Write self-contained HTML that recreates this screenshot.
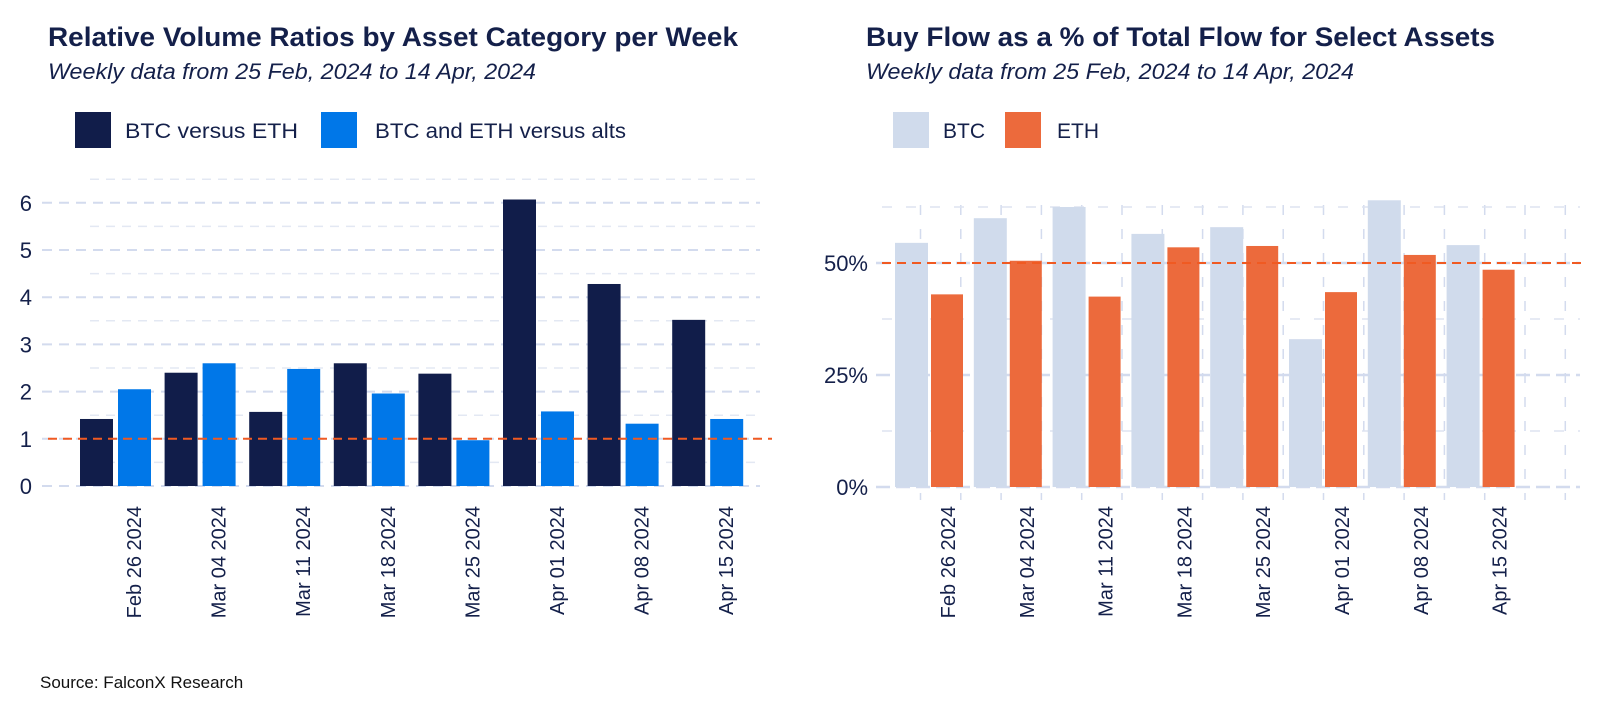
<!DOCTYPE html>
<html><head><meta charset="utf-8"><style>
html,body{margin:0;padding:0;background:#fff;}
svg{display:block;font-family:"Liberation Sans",Arial,sans-serif;}
</style></head><body>
<svg id="chart" width="1600" height="711" viewBox="0 0 1600 711" xmlns="http://www.w3.org/2000/svg">
<g>
<text x="48" y="46" font-size="27" font-weight="bold" fill="#14204a" textLength="690" lengthAdjust="spacingAndGlyphs">Relative Volume Ratios by Asset Category per Week</text>
<text x="48" y="79" font-size="22" font-style="italic" fill="#14204a" textLength="488" lengthAdjust="spacingAndGlyphs">Weekly data from 25 Feb, 2024 to 14 Apr, 2024</text>
<rect x="75" y="112" width="36" height="36" fill="#111d4a"/>
<text x="125" y="138" font-size="21" fill="#14204a" textLength="173" lengthAdjust="spacingAndGlyphs">BTC versus ETH</text>
<rect x="321" y="112" width="36" height="36" fill="#0077e8"/>
<text x="375" y="138" font-size="21" fill="#14204a" textLength="251" lengthAdjust="spacingAndGlyphs">BTC and ETH versus alts</text>
</g>
<g>
<text x="866" y="46" font-size="27" font-weight="bold" fill="#14204a" textLength="629" lengthAdjust="spacingAndGlyphs">Buy Flow as a % of Total Flow for Select Assets</text>
<text x="866" y="79" font-size="22" font-style="italic" fill="#14204a" textLength="488" lengthAdjust="spacingAndGlyphs">Weekly data from 25 Feb, 2024 to 14 Apr, 2024</text>
<rect x="893" y="112" width="36" height="36" fill="#d0dbec"/>
<text x="943" y="138" font-size="21" fill="#14204a">BTC</text>
<rect x="1005" y="112" width="36" height="36" fill="#ec6a3c"/>
<text x="1057" y="138" font-size="21" fill="#14204a">ETH</text>
</g>
<g id="left"></g>
<g id="right"></g>
<text x="40" y="688" font-size="17" fill="#111">Source: FalconX Research</text>
</svg>
<script>
const categories = ["Feb 26 2024","Mar 04 2024","Mar 11 2024","Mar 18 2024","Mar 25 2024","Apr 01 2024","Apr 08 2024","Apr 15 2024"];
const btcVsEth = [1.42,2.40,1.57,2.60,2.38,6.07,4.28,3.52];
const btcEthVsAlts = [2.05,2.60,2.48,1.96,0.97,1.58,1.32,1.42];
const leftTicks = [0,1,2,3,4,5,6];
const btcBuy = [54.5,60,62.5,56.5,58,33,64,54];
const ethBuy = [43,50.5,42.5,53.5,53.8,43.5,51.8,48.5];
const rightTicks = [0,25,50];
const rightTickLabels = ["0%","25%","50%"];

const NS="http://www.w3.org/2000/svg";
function mk(parent,tag,attrs){const e=document.createElementNS(NS,tag);for(const k in attrs)e.setAttribute(k,attrs[k]);parent.appendChild(e);return e;}

// left chart
const L=document.getElementById('left');
const ly=v=>486-v*47.2;
const lx=i=>80+i*84.6;
for(let v=0.5;v<6.6;v+=1){const g=mk(L,'line',{x1:90,x2:760,y1:ly(v),y2:ly(v),stroke:'#e3e8f3','stroke-width':1.5,'stroke-dasharray':'9 7'});

}
leftTicks.forEach(v=>{const g=mk(L,'line',{x1:42,x2:760,y1:ly(v),y2:ly(v),stroke:'#d3dbee','stroke-width':2,'stroke-dasharray':'10 7'});


const t=mk(L,'text',{x:32,y:ly(v)+8,'font-size':22,fill:'#14204a','text-anchor':'end'});t.textContent=v;

});
categories.forEach((c,i)=>{
const b1=mk(L,'rect',{x:lx(i),y:ly(btcVsEth[i]),width:33,height:ly(0)-ly(btcVsEth[i]),fill:'#111d4a'});


const b2=mk(L,'rect',{x:lx(i)+38,y:ly(btcEthVsAlts[i]),width:33,height:ly(0)-ly(btcEthVsAlts[i]),fill:'#0077e8'});


const t=mk(L,'text',{x:0,y:0,'font-size':20,fill:'#14204a','text-anchor':'end',transform:`translate(${lx(i)+61},506) rotate(-90)`});t.textContent=c;

});
const r1=mk(L,'line',{x1:48,x2:772,y1:ly(1),y2:ly(1),stroke:'#f05a22','stroke-width':2,'stroke-dasharray':'9 6'});



// right chart
const R=document.getElementById('right');
const ry=v=>487-v*4.48;
const rx=i=>895+i*78.8;
for(let k=0;k<17;k++){const x=920.5+k*40.3;const g=mk(R,'line',{x1:x,x2:x,y1:205,y2:500,stroke:'#d3dbee','stroke-width':1.5,'stroke-dasharray':'10 14'});

}
[12.5,37.5,62.5].forEach(v=>{const g=mk(R,'line',{x1:882,x2:1580,y1:ry(v),y2:ry(v),stroke:'#dde3f0','stroke-width':1.5,'stroke-dasharray':'10 14'});

});
rightTicks.forEach((v,j)=>{const g=mk(R,'line',{x1:876,x2:1580,y1:ry(v),y2:ry(v),stroke:'#d3dbee','stroke-width':2.5,'stroke-dasharray':'14 6'});


const t=mk(R,'text',{x:868,y:ry(v)+8,'font-size':22,fill:'#14204a','text-anchor':'end'});t.textContent=rightTickLabels[j];

});
categories.forEach((c,i)=>{
const b1=mk(R,'rect',{x:rx(i),y:ry(btcBuy[i]),width:33,height:ry(0)-ry(btcBuy[i]),fill:'#d0dbec'});


const b2=mk(R,'rect',{x:rx(i)+36,y:ry(ethBuy[i]),width:32,height:ry(0)-ry(ethBuy[i]),fill:'#ec6a3c'});


const t=mk(R,'text',{x:0,y:0,'font-size':20,fill:'#14204a','text-anchor':'end',transform:`translate(${rx(i)+60},506) rotate(-90)`});t.textContent=c;

});
const r2=mk(R,'line',{x1:882,x2:1582,y1:ry(50),y2:ry(50),stroke:'#f05a22','stroke-width':2,'stroke-dasharray':'9 6'});


</script>
</body></html>
